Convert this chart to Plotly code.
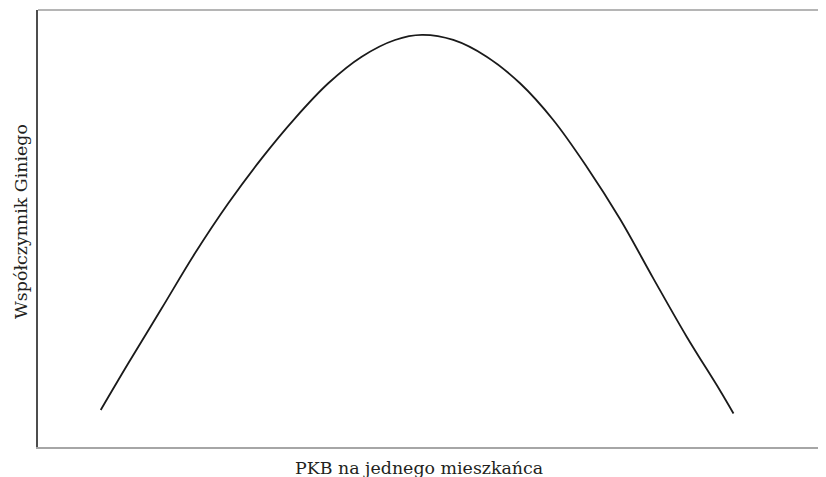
# krzywa Kuznetsa - wykres odtworzony w plotly

import plotly.graph_objects as go

# PKB na mieszkańca (jednostki umowne, 0-100)
pkb = [7.96, 11.46, 15.70, 19.92, 24.15, 28.39, 32.61, 36.84, 41.08, 45.30, 48.73,
       52.70, 56.94, 61.17, 65.39, 69.63, 73.86, 78.08, 82.32, 86.55, 88.26]
# współczynnik Giniego (jednostki umowne, 0-100)
gini = [8.47, 19.15, 31.74, 44.32, 55.77, 66.06, 75.22, 83.23, 89.31, 93.14, 94.30,
        93.14, 89.31, 83.23, 74.83, 64.14, 52.17, 38.60, 25.24, 12.93, 7.67]

X_TITLE = 'PKB na jednego mieszkańca'
Y_TITLE = 'Współczynnik Giniego'

FONT = 'DejaVu Serif'

fig = go.Figure()

fig.add_trace(go.Scatter(
    x=pkb,
    y=gini,
    mode='lines',
    line=dict(color='#1a1a1a', width=1.8, shape='spline', smoothing=1.0),
    showlegend=False,
    hoverinfo='skip'
))

# ramka: górna linia jaśniejsza
fig.add_shape(type='line', xref='paper', yref='paper', x0=0, x1=1, y0=1, y1=1,
              line=dict(color='#b5b5b5', width=2))

# strona ma 8px marginesu, stąd przesunięte marginesy wykresu
fig.update_layout(
    width=826,
    height=477,
    margin=dict(l=30, r=8, t=2, b=38),
    paper_bgcolor='white',
    plot_bgcolor='white',
    font=dict(family=FONT, color='#231f20'),
    xaxis=dict(range=[0, 100], showgrid=False, zeroline=False, showticklabels=False,
               ticks='', showline=True, linecolor='#a6a6a6', linewidth=2),
    yaxis=dict(range=[0, 100], showgrid=False, zeroline=False, showticklabels=False,
               ticks='', showline=True, linecolor='#4d4d4d', linewidth=1.5),
    annotations=[
        dict(text=X_TITLE, xref='paper', yref='paper', x=(419 - 38) / 788, y=0,
             yshift=-33, xanchor='center', yanchor='bottom', showarrow=False,
             font=dict(size=17.4, family=FONT, color='#231f20')),
        dict(text=Y_TITLE, xref='paper', yref='paper', x=0, y=(447 - 222) / 437,
             xshift=-17, textangle=-90, xanchor='center', yanchor='middle',
             showarrow=False, font=dict(size=17.4, family=FONT, color='#231f20')),
    ]
)

fig.write_html("out.html")
